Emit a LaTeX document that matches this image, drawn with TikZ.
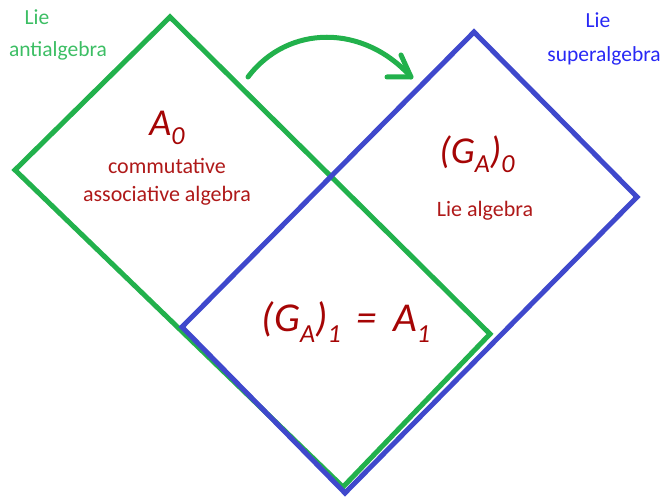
\documentclass[tikz,border=0pt]{standalone}
\usepackage{fontspec}
\setmainfont{Carlito}
\definecolor{pgreen}{RGB}{34,177,76}
\definecolor{pblue}{RGB}{63,72,204}
\definecolor{tgreen}{RGB}{60,190,100}
\definecolor{tblue}{RGB}{40,40,245}
\definecolor{tred}{RGB}{175,25,25}
\definecolor{mred}{RGB}{165,5,5}
\tikzset{
  edge/.style={line width=5pt, line join=miter},
  lab/.style={font=\fontsize{21.5}{24}\selectfont, inner sep=0pt},
  desc/.style={font=\fontsize{22}{28}\selectfont, text=tred, inner sep=0pt, align=center},
  hand/.style={font=\fontsize{38}{40}\selectfont\itshape, text=mred, inner sep=0pt}
}
\newcommand{\lowsub}[1]{\raisebox{-0.25em}{\fontsize{26}{26}\selectfont #1}}
\begin{document}
\begin{tikzpicture}[x=1pt,y=-1pt]
\useasboundingbox (0,0) rectangle (665,497);
% green rectangle corners
\coordinate (gt) at (170,17);
\coordinate (gr) at (490,334);
\coordinate (gb) at (343,487);
\coordinate (gl) at (15,170);
% blue rectangle corners
\coordinate (bt) at (474,32);
\coordinate (br) at (637,197);
\coordinate (bb) at (345,493);
\coordinate (bl) at (182,327);
\draw[edge, pgreen] (gt) -- (gr) -- (gb) -- (gl) -- cycle;
\draw[edge, pblue] (bt) -- (br) -- (bb) -- (bl) -- cycle;
% arrow
\coordinate (as) at (248,77);
\coordinate (ae) at (411,77);
\coordinate (ah1) at (401,55);
\coordinate (ah2) at (387,77);
\draw[pgreen, line width=5pt, line cap=round] (as) .. controls (288,24) and (364,24) .. (ae);
\draw[pgreen, line width=5pt, line cap=round, line join=round] (ah1) -- (ae) -- (ah2);
% labels
\node[lab, text=tgreen] (lie1) at (37,17) {Lie};
\node[lab, text=tgreen] (anti) at (58,51) {antialgebra};
\node[lab, text=tblue] (lie2) at (598,20) {Lie};
\node[lab, text=tblue] (super) at (604,56) {superalgebra};
% contents
\node[hand] (a0) at (167,128) {A\lowsub{0}};
\node[desc] (comm) at (167,182) {commutative\\associative algebra};
\node[hand] (g0) at (477,154) {(G\lowsub{A})\lowsub{0}};
\node[desc] (liealg) at (485,211) {Lie algebra};
\node[hand, font=\fontsize{41}{42}\selectfont\itshape] (g1) at (346,322) {(G\lowsub{A})\lowsub{1}\hspace{16pt}=\hspace{16pt}A\lowsub{1}};
\end{tikzpicture}
\end{document}
